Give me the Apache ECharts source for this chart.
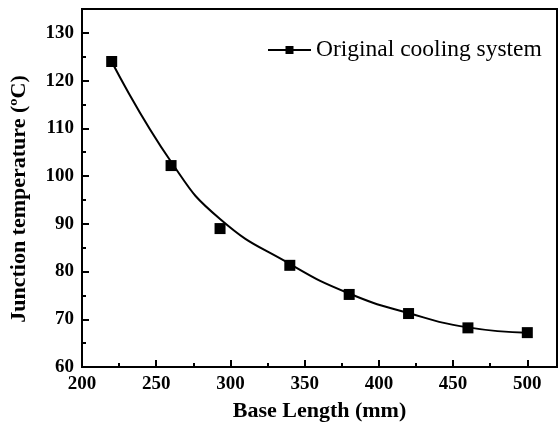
<!DOCTYPE html>
<html>
<head>
<meta charset="utf-8">
<script src="https://cdn.jsdelivr.net/npm/echarts@6/dist/echarts.min.js"></script>
<style>
  html, body { margin: 0; padding: 0; background: #fff; }
  #chart { width: 560px; height: 428px; }
</style>
</head>
<body>
<div id="chart"></div>
<script>
// measured points: base length (mm) and junction temperature (C)
var baseLength = [220, 260, 293, 340, 380, 420, 460, 500];
var junctionTemp = [124, 102.2, 89, 81.3, 75.2, 71.2, 68.2, 67.2];
// fitted curve at the same lengths
var fitTemp = [124, 103, 91, 81.6, 75.4, 71.3, 68.3, 67.2];
var seriesName = 'Original cooling system';

var points = baseLength.map(function (x, i) { return [x, junctionTemp[i]]; });
var curve = baseLength.map(function (x, i) { return [x, fitTemp[i]]; });

var font = 'Liberation Serif';
var chart = echarts.init(document.getElementById('chart'));

var option = {
  animation: false,
  backgroundColor: '#fff',
  grid: {
    left: 81, top: 9, right: 3, bottom: 61,
    show: true, borderColor: '#000', borderWidth: 2
  },
  legend: {
    left: 262, top: 33,
    itemWidth: 43, itemHeight: 10, itemGap: 11,
    textStyle: { fontFamily: font, fontSize: 23.5, color: '#000' },
    data: [seriesName]
  },
  xAxis: {
    type: 'value', min: 200, max: 520, interval: 50,
    name: 'Base Length (mm)', nameLocation: 'middle', nameGap: 33,
    nameTextStyle: { fontFamily: font, fontSize: 22, fontWeight: 'bold', color: '#000' },
    axisLine: { lineStyle: { color: '#000', width: 2 } },
    axisTick: { inside: true, length: 7, lineStyle: { color: '#000', width: 2 } },
    minorTick: { show: true, splitNumber: 2, length: 4, lineStyle: { color: '#000', width: 2 } },
    axisLabel: {
      margin: 8, fontFamily: font, fontSize: 19, fontWeight: 'bold', color: '#000',
      formatter: function (v) { return v % 50 === 0 ? String(v) : ''; }
    },
    splitLine: { show: false }
  },
  yAxis: {
    type: 'value', min: 60, max: 135, interval: 10,
    name: 'Junction temperature (\u00baC)', nameLocation: 'middle', nameGap: 52,
    nameTextStyle: {
      fontFamily: font, fontSize: 22, fontWeight: 'bold', color: '#000',
      padding: [0, 22, 0, 0]
    },
    axisLine: { lineStyle: { color: '#000', width: 2 } },
    axisTick: { inside: true, length: 7, lineStyle: { color: '#000', width: 2 } },
    minorTick: { show: true, splitNumber: 2, length: 4, lineStyle: { color: '#000', width: 2 } },
    axisLabel: {
      margin: 8, fontFamily: font, fontSize: 19, fontWeight: 'bold', color: '#000',
      formatter: function (v) { return v % 10 === 0 ? String(v) : ''; }
    },
    splitLine: { show: false }
  },
  series: [{
    name: seriesName,
    type: 'line',
    data: curve,
    smooth: 0.5,
    symbol: 'rect',
    showSymbol: false,
    itemStyle: { color: '#000' },
    lineStyle: { color: '#000', width: 2 },
    z: 2
  }, {
    name: seriesName,
    type: 'scatter',
    data: points,
    symbol: 'rect',
    symbolSize: 11,
    itemStyle: { color: '#000', opacity: 1 },
    z: 3
  }]
};

chart.setOption(option);
</script>
</body>
</html>
